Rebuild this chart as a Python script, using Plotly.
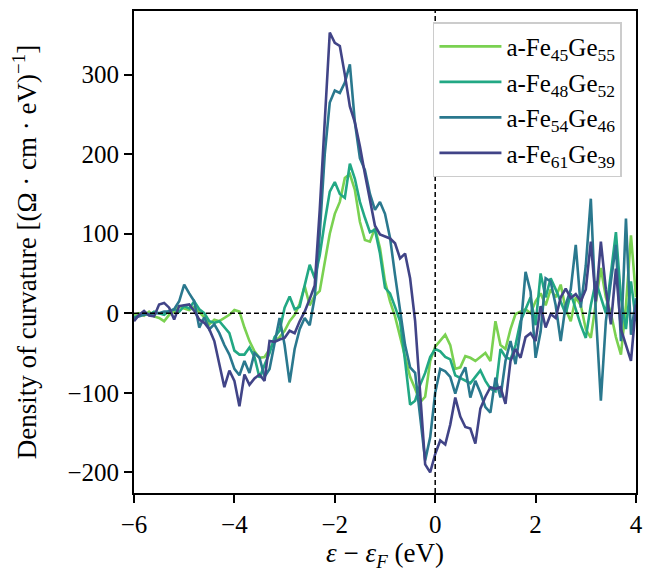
import numpy as np
import plotly.graph_objects as go

energy = [round(-6.0 + 0.1 * i, 1) for i in range(101)]

fe45ge55 = [-2, 0, -3, 2, -4, -6, -10, -2, 2, 9,
            6, 4, 8, 2, -5, -14, -8, -10, -6, -2,
            4, 2, -18, -35, -48, -56, -55, -45, -36, -30,
            -22, -10, -2, 12, 34, 10, 22, 28, 65, 100,
            125, 140, 170, 175, 155, 115, 92, 90, 107, 82,
            40, 15, -4, -30, -56, -80, -95, -112, -105, -60,
            -42, -35, -27, -40, -70, -68, -54, -56, -60, -55,
            -50, -60, -10, -40, -45, -20, -1, 2, 5, 0,
            15, 25, 10, 30, 20, 36, 5, -10, 20, 10,
            -20, -31, 10, 57, 20, 0, -30, -52, 10, 98,
            20]

fe48ge52 = [-5, -3, 0, -2, 2, 0, -2, 3, 5, 2,
            9, 6, 15, 5, 0, -10, -12, -10, -18, -25,
            -47, -52, -52, -43, -55, -81, -65, -50, -30, -22,
            7, 21, 5, 8, 35, 61, 44, 73, 115, 153,
            165, 150, 145, 188, 169, 140, 120, 102, 105, 75,
            32, 25, 8, -10, -60, -115, -110, -90, -75, -55,
            -45, -48, -55, -58, -78, -81, -85, -88, -80, -72,
            -85, -95, -98, -45, -55, -58, -40, -10, 5, 20,
            -15, 50, 20, 44, 30, 15, -1, 25, 5, -15,
            -31, 10, 40, 20, 0, 50, 102, 20, -20, 40,
            -10]

fe54ge46 = [-6, -4, -2, -1, 0, 0, 2, 2, 5, 15,
            36, 25, 15, -18, -5, -20, -14, -25, -40, -52,
            -70, -78, -60, -75, -50, -56, -80, -70, -40, -6,
            -40, -87, -45, -20, -6, -15, 20, 100, 200, 265,
            280, 277, 290, 313, 240, 195, 180, 150, 130, 140,
            125, 95, 48, 2, -40, -68, -75, -130, -185, -156,
            -100, -70, -73, -80, -101, -80, -68, -106, -85, -100,
            -118, -125, -81, -106, -60, -35, -64, -20, 52, 27,
            -56, -23, 44, 40, 10, -35, 11, 30, 86, 7,
            60, 144, 0, -110, -10, 40, 86, -35, 119, -27,
            19]

fe61ge39 = [-10, -2, 3, -3, -4, 11, 13, 7, -8, 9,
            10, 11, 3, -8, -12, -20, -35, -65, -93, -72,
            -85, -117, -77, -90, -82, -77, -85, -35, -36, -33,
            -31, -22, -25, -10, 2, 18, 35, 130, 240, 353,
            340, 336, 300, 260, 240, 210, 175, 140, 110, 99,
            96, 94, 88, 69, 75, 44, -10, -100, -190, -200,
            -177, -160, -165, -140, -106, -130, -143, -145, -164, -120,
            -105, -93, -95, -93, -114, -60, -45, -56, -30, -25,
            -35, 9, -18, -1, -6, 20, 31, 19, 24, 15,
            30, 90, 15, 90, 30, -14, 56, -20, -39, -60,
            11]

series = [
    ("a-Fe<sub>45</sub>Ge<sub>55</sub>", fe45ge55, "#7ad151"),
    ("a-Fe<sub>48</sub>Ge<sub>52</sub>", fe48ge52, "#22a884"),
    ("a-Fe<sub>54</sub>Ge<sub>46</sub>", fe54ge46, "#2a788e"),
    ("a-Fe<sub>61</sub>Ge<sub>39</sub>", fe61ge39, "#414487"),
]

fig = go.Figure()
for name, vals, col in series:
    fig.add_trace(go.Scatter(x=energy, y=vals, mode="lines", name=name,
                             line=dict(color=col, width=2.6)))

font_family = "Liberation Serif"
fig.add_shape(type="line", xref="x", yref="paper", x0=0, x1=0, y0=0, y1=1,
              line=dict(color="black", width=1.5, dash="5px,3px"), layer="above")
fig.add_shape(type="line", xref="paper", yref="y", x0=0, x1=1, y0=0, y1=0,
              line=dict(color="black", width=1.5, dash="5px,3px"), layer="above")

fig.update_layout(
    width=649, height=564,
    margin=dict(l=126, r=21, t=1, b=79),
    plot_bgcolor="white", paper_bgcolor="white",
    font=dict(family=font_family, size=25, color="black"),
    showlegend=True,
    legend=dict(x=0.972, y=0.977, xanchor="right", yanchor="top",
                bgcolor="white", bordercolor="#cccccc", borderwidth=1.5,
                font=dict(size=25), tracegroupgap=0, itemwidth=62),
    xaxis=dict(range=[-6, 4], tickvals=[-6, -4, -2, 0, 2, 4],
               showgrid=False, zeroline=False, showline=True, linecolor="black",
               linewidth=2, mirror=True, ticks="outside", ticklen=8, tickwidth=2,
               tickcolor="black", tickfont=dict(size=25),
               title=dict(text="<i>ε</i> − <i>ε</i><sub><i>F</i></sub> (eV)",
                          font=dict(size=27), standoff=0)),
    yaxis=dict(range=[-226, 380], tickvals=[-200, -100, 0, 100, 200, 300],
               showgrid=False, zeroline=False, showline=True, linecolor="black",
               linewidth=2, mirror=True, ticks="outside", ticklen=8, tickwidth=2,
               tickcolor="black", tickfont=dict(size=25),
               title=dict(text="Density of curvature [(Ω · cm · eV)<sup>−1</sup>]",
                          font=dict(size=27), standoff=28)),
)

fig.write_html("out.html")
